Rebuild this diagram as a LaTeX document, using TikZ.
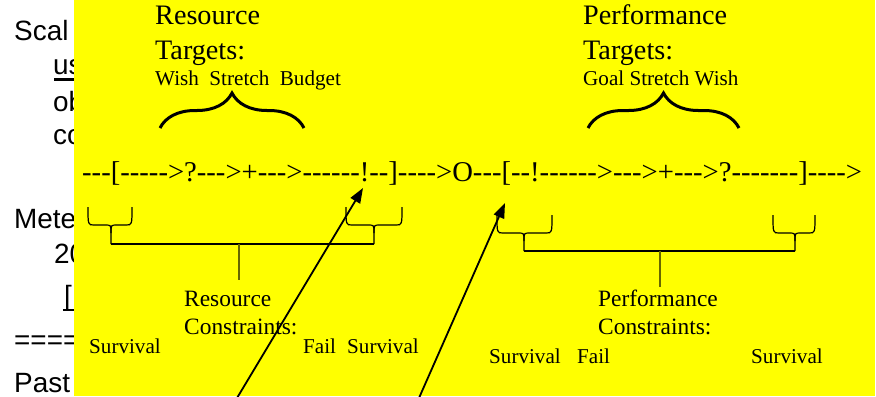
\documentclass[tikz,border=0pt]{standalone}
\usepackage{fontspec}
\setmainfont{Liberation Serif}[Ligatures=TeXOff]
\newfontfamily\slidefont{Liberation Sans}[Ligatures=TeXOff]
\usetikzlibrary{arrows.meta,decorations.pathreplacing}
\definecolor{panel}{RGB}{255,255,0}

% thin brace opening upwards with its cusp pointing down:
% #1 left x, #2 right x, #3 cusp x, #4 top y, #5 middle y, #6 cusp end y
\newcommand\bracedown[6]{%
  \draw[thinbrace] (#1,#4) .. controls (#1,#5) and (#1,#5) .. ({#1+6},#5)
    -- ({#3-6},#5) .. controls (#3,#5) and (#3,#5) .. (#3,{#5+8}) -- (#3,#6);
  \draw[thinbrace] (#2,#4) .. controls (#2,#5) and (#2,#5) .. ({#2-6},#5)
    -- ({#3+6},#5) .. controls (#3,#5) and (#3,#5) .. (#3,{#5+8});
}

\begin{document}
\begin{tikzpicture}[x=1bp,y=-1bp,
  slide/.style={anchor=base west, inner sep=0pt, font=\slidefont\fontsize{28}{34}\selectfont},
  head/.style={anchor=base west, inner sep=0pt, font=\fontsize{28.3}{34}\selectfont},
  scaleline/.style={anchor=base west, inner sep=0pt, font=\fontsize{28.75}{34}\selectfont},
  sub/.style={anchor=base west, inner sep=0pt, font=\fontsize{23.5}{28}\selectfont},
  small/.style={anchor=base west, inner sep=0pt, font=\fontsize{21.2}{24}\selectfont},
  bigbrace/.style={line width=3bp, decorate, decoration={brace, amplitude=35bp}},
  thinbrace/.style={line width=1.2bp},
  stem/.style={line width=1.2bp, draw=black!60!panel},
  pointer/.style={line width=1.8bp, -{Triangle[length=15bp,width=11bp]}}]

\useasboundingbox (0,0) rectangle (876,396);
\fill[white] (0,0) rectangle (876,396);

% slide text behind the panel
\node[slide] (s1) at (14,40) {Scal};
\node[slide] (s2) at (53,74) {us};
\draw[line width=2.2bp] (54,79.5) -- (80,79.5);
\node[slide] (s3) at (53,111) {ob};
\node[slide] (s4) at (53,144) {co};
\node[slide] (s5) at (14,228) {Mete};
\node[slide] (s6) at (54,263) {20};
\node[slide] (s7) at (64,305) {[};
\draw[line width=2.2bp] (63,310) -- (80,310);
\node[slide] (s8) at (14,349) {====};
\node[slide] (s9) at (14,392) {Past};

% yellow panel
\fill[panel] (74,0) rectangle (875,396);

% targets
\node[head] (rt1) at (155,24) {Resource};
\node[head] (rt2) at (155,59) {Targets:};
\node[small] (rt3) at (155,85) {Wish~~Stretch~~Budget};
\node[head] (pt1) at (583,24) {Performance};
\node[head] (pt2) at (583,59) {Targets:};
\node[small] (pt3) at (583,85) {Goal Stretch Wish};

\draw[bigbrace] (160,128) -- (304,128);
\draw[bigbrace] (588,128) -- (739,128);

% the scale
\node[scaleline] (line) at (82,181)
  {---[----->?--->+--->------!--]---->O---[--!------>--->+--->?-------]---->};

% constraint braces
\bracedown{88}{132}{111}{207}{225}{244}
\bracedown{346}{402}{374}{207}{225}{244}
\draw[thinbrace] (111,244) -- (374,244);
\draw[stem] (239,244) -- (239,280);

\bracedown{497}{552}{524}{215}{233}{251}
\bracedown{773}{815}{795}{215}{233}{251}
\draw[thinbrace] (524,251) -- (795,251);
\draw[stem] (660,251) -- (660,287);

% constraints
\node[sub] (rc1) at (184,306) {Resource};
\node[sub] (rc2) at (184,334) {Constraints:};
\node[small] (rc3) at (89,353) {Survival};
\node[small] (rc4) at (303,353) {Fail};
\node[small] (rc5) at (347,353) {Survival};

\node[sub] (pc1) at (598,306) {Performance};
\node[sub] (pc2) at (598,334) {Constraints:};
\node[small] (pc3) at (489,363) {Survival};
\node[small] (pc4) at (577,363) {Fail};
\node[small] (pc5) at (751,363) {Survival};

% pointers
\coordinate (a1tail) at (237,398);
\coordinate (a1tip) at (363,188);
\coordinate (a2tail) at (419,398);
\coordinate (a2tip) at (505,203);
\draw[pointer] (a1tail) -- (a1tip);
\draw[pointer] (a2tail) -- (a2tip);
\end{tikzpicture}
\end{document}
